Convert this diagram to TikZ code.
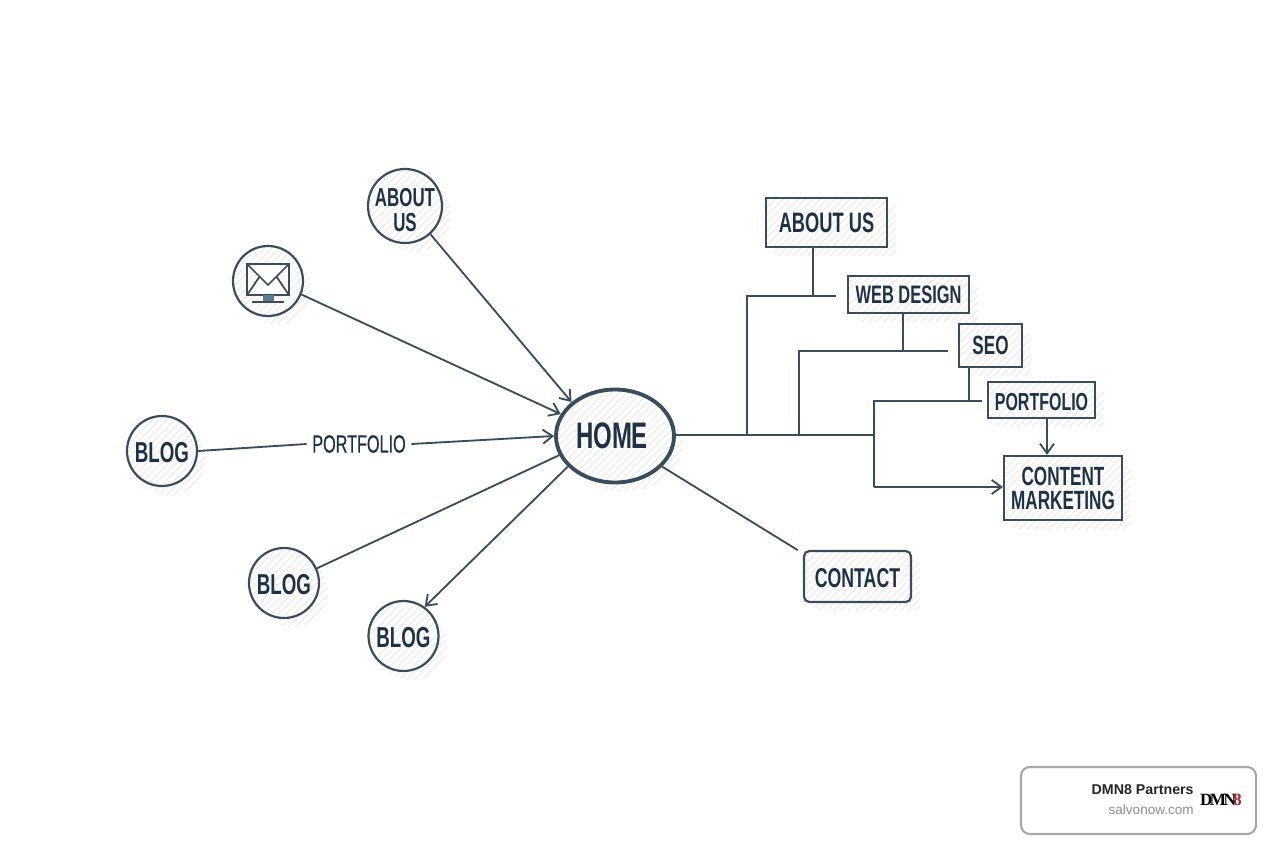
\documentclass[tikz,border=0pt]{standalone}
\usepackage{fontspec}
\usepackage{xcolor}
\usetikzlibrary{patterns.meta,shadows,arrows.meta,shapes.geometric}
\newfontfamily\navfont[FakeStretch=0.65]{Liberation Sans}
\newfontfamily\midfont[FakeStretch=0.65,FakeBold=0.5]{Liberation Sans}
\newfontfamily\cardfont{Liberation Sans}
\newfontfamily\logofont{Liberation Serif}
\definecolor{inktext}{HTML}{1E3246}
\definecolor{inkline}{HTML}{3A4D5C}
\definecolor{hatchline}{HTML}{E6E8EA}
\definecolor{cardline}{HTML}{A8A8A8}
\definecolor{logored}{HTML}{A81E28}
\definecolor{standblue}{HTML}{5A7F94}
\begin{document}
\begin{tikzpicture}
		[x = 0.02cm, y = -0.02cm,
		 hatched/.style = {general shadow = {shadow xshift = 0.18cm, shadow yshift = -0.18cm, draw = none, pattern = {Lines[angle = 45, distance = 3pt, line width = 0.5pt]}, pattern color = hatchline},
			preaction = {fill = white},
			preaction = {pattern = {Lines[angle = 45, distance = 3pt, line width = 0.5pt]}, pattern color = hatchline}},
		 sitecircle/.style = {hatched, circle, draw = inkline, line width = 1.25pt, minimum size = 1.4cm, inner sep = 0pt, align = center, text = inktext, font = \navfont\bfseries\fontsize{16.4}{14}\selectfont},
		 sitebox/.style = {hatched, rectangle, draw = inkline, line width = 1.25pt, inner sep = 0pt, align = center, text = inktext, font = \navfont\bfseries\fontsize{15}{13.6}\selectfont},
		 link/.style = {draw = inkline, line width = 1.05pt},
		 pointer/.style = {link, -{Straight Barb[length = 5.5pt, width = 8pt]}}]
			\useasboundingbox (0,0) rectangle (1264,848);
			\node [sitecircle, line width = 2.2pt, ellipse, minimum width = 2.36cm, minimum height = 1.86cm, font = \navfont\bfseries\fontsize{21}{22}\selectfont] (home) at (615,436) {HOME\hspace{3.4pt}};
			\node [sitecircle, inner sep = -6pt, minimum size = 1.48cm, font = \navfont\bfseries\fontsize{14.8}{14}\selectfont] (aboutcircle) at (405,206) {\rule{0pt}{15pt}ABOUT\\US};
			\node [sitecircle] (mailcircle) at (268,281) {};
			\node [sitecircle] (blogleft) at (162,451) {\rule{0pt}{13.5pt}BLOG};
			\node [sitecircle] (blogmid) at (284,583) {\rule{0pt}{13.5pt}BLOG};
			\node [sitecircle] (bloglow) at (403.5,636) {\rule{0pt}{13.5pt}BLOG};
			\node [text = inktext, inner sep = 3pt, font = \midfont\fontsize{14.2}{14}\selectfont] (portfoliolabel) at (359,444) {PORTFOLIO};
			\node [sitebox, minimum width = 2.42cm, minimum height = 0.98cm, font = \navfont\bfseries\fontsize{16}{14}\selectfont] (aboutbox) at (826.5,222.5) {ABOUT US};
			\node [sitebox, minimum width = 2.42cm, minimum height = 0.74cm, font = \navfont\bfseries\fontsize{14.4}{14}\selectfont] (webbox) at (908.5,294.5) {WEB DESIGN};
			\node [sitebox, minimum width = 1.26cm, minimum height = 0.86cm] (seobox) at (990.5,345.5) {SEO};
			\node [sitebox, minimum width = 2.14cm, minimum height = 0.72cm, font = \navfont\bfseries\fontsize{14}{14}\selectfont] (portfoliobox) at (1041.5,400) {\rule{0pt}{12.5pt}PORTFOLIO};
			\node [sitebox, minimum width = 2.36cm, minimum height = 1.28cm] (contentbox) at (1063,488) {CONTENT\\MARKETING};
			\node [sitebox, rounded corners = 3pt, minimum width = 2.14cm, minimum height = 1.02cm, font = \navfont\bfseries\fontsize{15.5}{14}\selectfont] (contactbox) at (857.5,576.5) {\rule{0pt}{13pt}CONTACT};
			\draw [pointer] (aboutcircle.-48) -- (home.142);
			\draw [pointer] (mailcircle.-22) -- (home.158);
			\draw [link] (blogleft.east) -- (portfoliolabel.west);
			\draw [pointer] (portfoliolabel.east) -- (home.west);
			\draw [link] (blogmid.24) -- (home.199);
			\draw [pointer] (home.213) -- (bloglow.54);
			\draw [link, shorten > = 3.4pt] (home.327) -- (contactbox.157);
			\coordinate (aboutstub) at (836,296);
			\coordinate (webstub) at (948,351);
			\coordinate (seostub) at (982,401);
			\coordinate (abouttrunk) at (747,435);
			\coordinate (webtrunk) at (799,435);
			\coordinate (seotrunk) at (874,435);
			\coordinate (abouttee) at (813,296);
			\coordinate (webtee) at (903,351);
			\coordinate (seotee) at (969,401);
			\coordinate (contentknee) at (874,487);
			\coordinate (portfoliodrop) at (1047,437);
			\draw [link] (home.east |- seotrunk) -- (seotrunk);
			\draw [link] (abouttrunk) |- (aboutstub);
			\draw [link] (webtrunk) |- (webstub);
			\draw [link] (contentknee) |- (seostub);
			\draw [link] (aboutbox.south -| abouttee) -- (abouttee);
			\draw [link] (webbox.south -| webtee) -- (webtee);
			\draw [link] (seobox.south -| seotee) -- (seotee);
			\draw [pointer] (contentknee) -- (contentbox.west |- contentknee);
			\draw [pointer] (portfoliobox.south -| portfoliodrop) -- (contentbox.north -| portfoliodrop);
			\draw [inkline, line width = 1.5pt, fill = white] (247,264) rectangle (289,295);
			\draw [inkline, line width = 1pt] (247,264) -- (268,285) -- (289,264) (247,295) -- (260,276) (289,295) -- (276,276);
			\fill [standblue] (263,295) rectangle (274,301);
			\draw [inkline, line width = 1.4pt] (252,302) -- (284,302);
			\node [draw = cardline, fill = white, line width = 1.2pt, rounded corners = 5pt, minimum width = 4.7cm, minimum height = 1.34cm] (card) at (1138.5,800.5) {};
			\node [anchor = east, inner sep = 0pt, text = black!85, font = \cardfont\bfseries\fontsize{8.1}{9}\selectfont] (cardname) at (1194,790) {DMN8 Partners};
			\node [anchor = east, inner sep = 0pt, text = black!45, font = \cardfont\fontsize{7.7}{9}\selectfont] (cardurl) at (1194,810) {salvonow.com};
			\node [inner sep = 0pt, font = \logofont\bfseries\fontsize{9.8}{11}\selectfont] (cardlogo) at (1221,800) {D\kern-1.6pt M\kern-1.4pt N\kern-1.6pt\textcolor{logored}{8}};
	\end{tikzpicture}
\end{document}
